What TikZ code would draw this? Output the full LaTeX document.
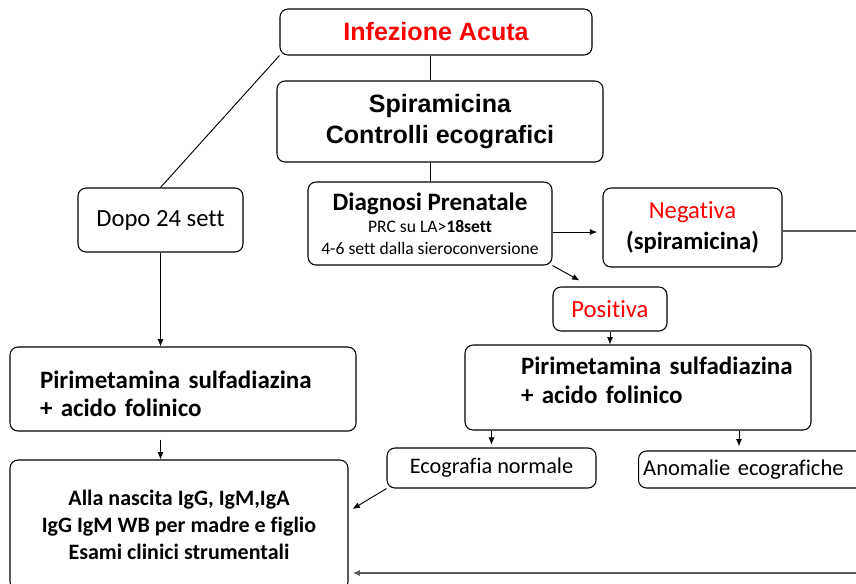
\documentclass[tikz,border=0pt]{standalone}
\usepackage{fontspec}
\setmainfont[Ligatures=NoCommon]{Carlito}
\newfontfamily\arialfont{Liberation Sans}
\usetikzlibrary{arrows.meta}
\usetikzlibrary{calc}

\begin{document}
\begin{tikzpicture}[>={Latex[length=5.5pt,width=4.5pt]}, x=0.75pt, y=-0.75pt,
	box/.style={draw, rounded corners=6pt, line width=0.8pt, inner sep=0pt, align=center},
	big/.style={font=\arialfont\bfseries\fontsize{18.8}{23.5}\selectfont},
	cal/.style={font=\fontsize{18.5}{23}\selectfont},
	pir/.style={box, font=\bfseries\fontsize{18.75}{21.5}\selectfont, text width=259.5pt, align=left},
	link/.style={line width=0.7pt},
	back/.style={draw=black!65, line width=1.1pt}]
			\useasboundingbox (0,0) rectangle (856,583);
			\clip (0,0) rectangle (856,583);
			% top of the chart
			\node[box, big, text=red, minimum width=234pt, minimum height=34.5pt] (infez) at (436,32) {Infezione Acuta};
			\node[box, big, minimum width=244.5pt, minimum height=60.75pt] (spira) at (440,121.5) {Spiramicina\\Controlli ecografici};
			\node[box, font=\fontsize{13.2}{16}\selectfont, minimum width=183pt, minimum height=62.25pt] (diagn) at (430,223.5)
			{{\bfseries\fontsize{18.8}{20}\selectfont Diagnosi Prenatale}\\[1pt] PRC su LA>\textbf{18sett}\\4-6 sett dalla sieroconversione};
			\node[box, cal, minimum width=134.25pt, minimum height=59.25pt] (neg) at (692.5,227.5) {\textcolor{red}{Negativa}\\\textbf{(spiramicina)}};
			\node[box, cal, text=red, minimum width=85.5pt, minimum height=33pt] (pos) at (610,309) {Positiva};
			\node[box, cal, minimum width=123.75pt, minimum height=48pt] (dopo) at (160.5,220) {Dopo 24 sett};
			% therapy boxes
			\node[pir, text height=16pt, text depth=17.5pt, minimum height=63pt] (lpir) at (183,389)
			{\leftskip=22.5pt\relax Pirimetamina sulfadiazina\\\leftskip=22.5pt\relax + acido folinico\par};
			\node[pir, text height=14pt, text depth=32.8pt, minimum height=63.75pt] (rpir) at (638,387.5)
			{\leftskip=42pt\relax Pirimetamina sulfadiazina\\\leftskip=42pt\relax + acido folinico\par};
			\node[box, font=\fontsize{16.7}{20}\selectfont, minimum width=156.75pt, minimum height=30pt] (eco) at (491.5,468) {Ecografia normale};
			\node[box, font=\fontsize{16.9}{20}\selectfont, anchor=west, inner xsep=3.5pt, text width=173pt, align=left, minimum height=27.75pt] (anom) at (638,469.5) {Anomalie ecografiche};
			\node[box, font=\bfseries\fontsize{16.5}{20}\selectfont, minimum width=253.5pt, minimum height=97.5pt] (bot) at (179,525)
			{Alla nascita IgG, IgM,IgA\\IgG IgM WB per madre e figlio\\Esami clinici strumentali};
			% connectors
			\coordinate (rt) at (856,231);
			\coordinate (rb) at (856,573);
			\coordinate (ra) at ($(rpir.south)+(101,0)$);
			\coordinate (dn) at ($(diagn.east)+(0,8.5)$);
			\draw[link] (infez.south -| diagn.north) -- (spira.north -| diagn.north);
			\draw[link] (spira.south -| diagn.north) -- (diagn.north);
			\draw[link, ->] (dn) -- ([xshift=-4pt]dn -| neg.west);
			\draw[link, ->] (diagn.south east) -- ($(pos.north west)+(27,-6)$);
			\draw[link, ->] (pos.south) -- (pos.south |- rpir.north);
			\draw[back] (rt -| neg.east) -- (rt);
			\draw[link] (infez.south west) -- (dopo.north);
			\draw[link, ->] (dopo.south) -- (dopo.south |- lpir.north);
			\draw[link, ->, shorten <=6pt] (lpir.south -| dopo.south) -- (bot.north -| dopo.south);
			\draw[link, ->, shorten >=2pt] (rpir.south -| eco.north) -- (eco.north);
			\draw[link, ->, shorten >=3pt] (ra) -- (ra |- anom.north);
			\draw[link, ->] (eco.south west) -- ($(bot.east)+(4,-16)$);
			\draw[back, ->, shorten >=3pt] (rb) -- (rb -| bot.east);
		\end{tikzpicture}
\end{document}
